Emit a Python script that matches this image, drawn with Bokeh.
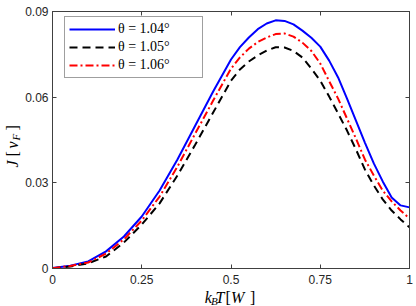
import math
from bokeh.plotting import figure
from bokeh.models import Range1d, FixedTicker, LinearAxis, Legend, LegendItem
from bokeh.layouts import row, column
from bokeh.core.properties import value
from bokeh.embed import file_html
from bokeh.resources import INLINE

# ---------------- data ----------------
kBT = [0, 0.05, 0.1, 0.15, 0.2, 0.25, 0.3, 0.35, 0.4, 0.45, 0.5, 0.525, 0.55,
       0.575, 0.6, 0.625, 0.65, 0.675, 0.7, 0.725, 0.75, 0.775, 0.8, 0.825,
       0.85, 0.875, 0.9, 0.925, 0.95, 0.975, 1.0]
J_104 = [0.0002, 0.0010, 0.0025, 0.0060, 0.0112, 0.0182, 0.0273, 0.0382, 0.0501,
         0.0620, 0.0732, 0.0775, 0.0809, 0.0838, 0.0858, 0.0869, 0.0867, 0.0855,
         0.0833, 0.0808, 0.0777, 0.0728, 0.0669, 0.0595, 0.0518, 0.0441, 0.0368,
         0.0305, 0.0249, 0.0221, 0.0214]
J_105 = [0.0001, 0.0007, 0.0018, 0.0042, 0.0091, 0.0154, 0.0228, 0.0326, 0.0434,
         0.0546, 0.0658, 0.0697, 0.0725, 0.0746, 0.0763, 0.0775, 0.0774, 0.0762,
         0.0739, 0.0700, 0.0658, 0.0602, 0.0543, 0.0483, 0.0417, 0.0347, 0.0291,
         0.0242, 0.0203, 0.0172, 0.0144]
J_106 = [0.0001, 0.0009, 0.0021, 0.0052, 0.0102, 0.0168, 0.0252, 0.0357, 0.0473,
         0.0588, 0.0700, 0.0739, 0.0770, 0.0793, 0.0809, 0.0821, 0.0823, 0.0812,
         0.0791, 0.0762, 0.0718, 0.0656, 0.0595, 0.0525, 0.0455, 0.0382, 0.0326,
         0.0273, 0.0235, 0.0203, 0.0175]
legend_labels = ["θ = 1.04°", "θ = 1.05°", "θ = 1.06°"]
x_ticks = [0, 0.25, 0.5, 0.75, 1]
x_tick_labels = ["0", "0.25", "0.5", "0.75", "1"]
y_ticks = [0, 0.03, 0.06, 0.09]
y_tick_labels = ["0", "0.03", "0.06", "0.09"]

# ---------------- main figure ----------------
AX = "#404040"
TICK_FONT = "Liberation Sans"
SERIF = "Liberation Serif"

YLAB_W = 22      # width of the strip holding the y label
XLAB_H = 18      # height of the strip holding the x label
MAIN_W = 416 - YLAB_W
MAIN_H = 306 - XLAB_H

p = figure(width=MAIN_W, height=MAIN_H, output_backend="svg", toolbar_location=None,
           x_range=Range1d(0, 1), y_range=Range1d(0, 0.09),
           min_border_left=27, min_border_right=7, min_border_top=11,
           min_border_bottom=20, x_axis_location=None, y_axis_location=None)
p.grid.visible = False
p.outline_line_color = AX
p.outline_line_width = 1
p.background_fill_color = "white"
p.border_fill_color = "white"


def style_axis(ax, ticks, labels, show):
    ax.ticker = FixedTicker(ticks=ticks)
    ax.major_tick_in = 4
    ax.major_tick_out = 0
    ax.minor_tick_line_color = None
    ax.axis_line_color = AX
    ax.major_tick_line_color = AX
    ax.major_label_text_font = TICK_FONT
    ax.major_label_text_color = "#262626"
    ax.major_label_text_font_size = "12px"
    if show:
        ax.major_label_overrides = {t: l for t, l in zip(ticks, labels)}
    else:
        ax.major_label_overrides = {t: "" for t in ticks}
        ax.major_label_standoff = 0


xb = LinearAxis()
style_axis(xb, x_ticks, x_tick_labels, True)
xb.major_label_standoff = 6
p.add_layout(xb, "below")
yl = LinearAxis()
style_axis(yl, y_ticks, y_tick_labels, True)
yl.major_label_standoff = 4
p.add_layout(yl, "left")
xt = LinearAxis()
style_axis(xt, x_ticks, x_tick_labels, False)
p.add_layout(xt, "above")
yr = LinearAxis()
style_axis(yr, y_ticks, y_tick_labels, False)
p.add_layout(yr, "right")

r1 = p.line(kBT, J_104, line_color="#0000FF", line_width=2)
r2 = p.line(kBT, J_105, line_color="#000000", line_width=2, line_dash="8 5")
r3 = p.line(kBT, J_106, line_color="#FF0000", line_width=2, line_dash="8 3 2 3")

legend = Legend(items=[LegendItem(label=legend_labels[0], renderers=[r1]),
                       LegendItem(label=legend_labels[1], renderers=[r2]),
                       LegendItem(label=legend_labels[2], renderers=[r3])],
                location=(12, 190))
legend.glyph_width = 46
legend.glyph_height = 16
legend.label_height = 16
legend.label_width = 80
legend.label_standoff = 3
legend.padding = 4
legend.spacing = 2
legend.margin = 0
legend.border_line_color = AX
legend.border_line_width = 1
legend.background_fill_alpha = 1
legend.label_text_font = SERIF
legend.label_text_font_size = "14px"
legend.label_text_color = "black"
p.add_layout(legend, "center")


def label_strip(width, height, x0, y0):
    f = figure(width=width, height=height, output_backend="svg", toolbar_location=None,
               x_range=Range1d(x0, x0 + width), y_range=Range1d(y0 + height, y0),
               min_border=0, x_axis_location=None, y_axis_location=None)
    f.grid.visible = False
    f.outline_line_color = None
    f.border_fill_color = "white"
    f.background_fill_color = "white"
    return f


# x label strip: page coordinates x 22..416, y 288..306
fx = label_strip(MAIN_W, XLAB_H, YLAB_W, MAIN_H)
# y label strip: page coordinates x 0..22, y 0..306
fy = label_strip(YLAB_W, 306, 0, 0)


def piece(f, text, px, py, size, style="italic", angle=0.0):
    f.text(x=[px], y=[py], text=[text], text_font=value(SERIF),
           text_font_size=value(size), text_font_style=style,
           text_color="black", text_baseline="alphabetic",
           text_align="left", angle=angle)


# x label: k_B T[W]
base = 297
piece(fx, "k", 190, base, "16px")
piece(fx, "B", 197, base + 3, "11px")
piece(fx, "T", 202, base, "16px")
piece(fx, "[", 213, base, "16px", "normal")
piece(fx, "W", 219, base, "16px")
piece(fx, "]", 240, base, "16px", "normal")

# y label: J[v_F] rotated
a = math.pi / 2
bx = 12
piece(fy, "J", bx, 167, "16px", angle=a)
piece(fy, "[", bx, 156, "16px", "normal", angle=a)
piece(fy, "v", bx, 148, "16px", angle=a)
piece(fy, "F", bx + 3, 140, "11px", angle=a)
piece(fy, "]", bx, 130, "16px", "normal", angle=a)

layout = row(fy, column(p, fx, spacing=0), spacing=0)
open("out.html", "w").write(file_html(layout, INLINE))
